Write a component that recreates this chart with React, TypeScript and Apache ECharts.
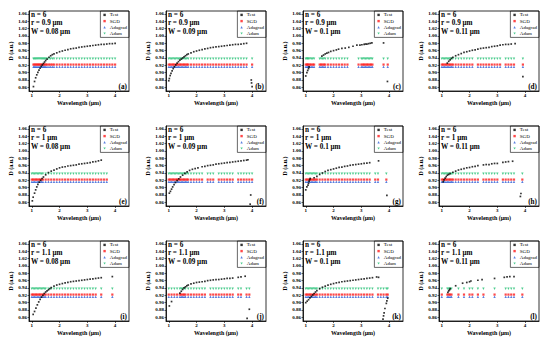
import React, { useEffect, useRef } from "react";
import * as echarts from "echarts";

const panelLabels = ["(a)", "(b)", "(c)", "(d)", "(e)", "(f)", "(g)", "(h)", "(i)", "(j)", "(k)", "(l)"];
const radiusLabels = ["0.9 μm", "1 μm", "1.1 μm"];
const widthLabels = ["0.08 μm", "0.09 μm", "0.1 μm", "0.11 μm"];
const yTicks = [0.86, 0.88, 0.9, 0.92, 0.94, 0.96, 0.98, 1.0, 1.02, 1.04, 1.06];
const xTicks = [1, 2, 3, 4];
const sgdLevel = 0.922;
const adagradLevel = 0.916;
const adamLevel = 0.938;

// (a)
const testXA = [1.06, 1.1, 1.14, 1.18, 1.22, 1.26, 1.3, 1.34, 1.38, 1.42, 1.46, 1.5, 1.55, 1.62, 1.68, 1.74, 1.8, 1.9, 2.0, 2.1, 2.2, 2.3, 2.4, 2.5, 2.6, 2.7, 2.8, 2.9, 3.0, 3.1, 3.2, 3.3, 3.4, 3.5, 3.6, 3.7, 3.8, 3.9, 4.0];
const testYA = [0.862, 0.876, 0.886, 0.894, 0.901, 0.907, 0.912, 0.917, 0.921, 0.925, 0.929, 0.933, 0.937, 0.942, 0.946, 0.949, 0.951, 0.954, 0.957, 0.959, 0.961, 0.963, 0.965, 0.966, 0.967, 0.969, 0.97, 0.971, 0.972, 0.973, 0.974, 0.975, 0.976, 0.977, 0.977, 0.978, 0.979, 0.979, 0.98];
const predXA = [1.06, 1.1, 1.14, 1.18, 1.22, 1.26, 1.3, 1.34, 1.38, 1.42, 1.46, 1.5, 1.55, 1.62, 1.68, 1.74, 1.8, 1.9, 2.0, 2.1, 2.2, 2.3, 2.4, 2.5, 2.6, 2.7, 2.8, 2.9, 3.0, 3.1, 3.2, 3.3, 3.4, 3.5, 3.6, 3.7, 3.8, 3.9, 4.0];
// (b)
const testXB = [1.0, 1.02, 1.05, 1.08, 1.12, 1.16, 1.2, 1.25, 1.3, 1.35, 1.4, 1.45, 1.5, 1.55, 1.6, 1.65, 1.7, 1.8, 1.9, 2.0, 2.1, 2.2, 2.3, 2.4, 2.5, 2.6, 2.7, 2.8, 2.9, 3.0, 3.1, 3.2, 3.3, 3.4, 3.5, 3.6, 3.7, 3.8, 3.97, 3.98, 4.0];
const testYB = [0.878, 0.884, 0.892, 0.898, 0.905, 0.911, 0.916, 0.921, 0.926, 0.93, 0.934, 0.937, 0.94, 0.943, 0.946, 0.949, 0.951, 0.954, 0.957, 0.959, 0.961, 0.963, 0.965, 0.966, 0.968, 0.969, 0.97, 0.971, 0.972, 0.973, 0.974, 0.975, 0.976, 0.977, 0.977, 0.978, 0.979, 0.98, 0.88, 0.872, 0.862];
const predXB = [1.0, 1.05, 1.1, 1.15, 1.2, 1.25, 1.3, 1.35, 1.4, 1.45, 1.5, 1.55, 1.6, 1.65, 1.7, 1.8, 1.9, 2.0, 2.1, 2.2, 2.3, 2.4, 2.5, 2.6, 2.7, 2.8, 2.9, 3.0, 3.1, 3.2, 3.3, 3.4, 3.5, 3.6, 3.7, 3.8, 4.0];
// (c)
const testXC = [1.0, 1.04, 1.07, 1.1, 1.12, 1.58, 1.64, 1.7, 1.76, 1.82, 1.9, 2.0, 2.1, 2.18, 2.3, 2.42, 2.55, 2.7, 2.84, 2.95, 3.02, 3.1, 3.15, 3.2, 3.26, 3.32, 3.38, 3.8, 3.94];
const testYC = [0.891, 0.9, 0.906, 0.911, 0.916, 0.945, 0.948, 0.951, 0.953, 0.955, 0.958, 0.96, 0.962, 0.964, 0.966, 0.967, 0.969, 0.972, 0.975, 0.975, 0.976, 0.977, 0.978, 0.978, 0.979, 0.98, 0.981, 0.981, 0.876];
const predXC = [1.0, 1.04, 1.07, 1.1, 1.15, 1.2, 1.25, 1.3, 1.5, 1.55, 1.6, 1.65, 1.7, 1.8, 1.9, 2.0, 2.1, 2.2, 2.3, 2.4, 2.5, 2.9, 3.0, 3.05, 3.1, 3.15, 3.2, 3.25, 3.3, 3.35, 3.4, 3.8, 3.95];
// (d)
const testXD = [1.2, 1.25, 1.3, 1.35, 1.4, 1.5, 1.6, 1.7, 1.8, 1.9, 2.0, 2.1, 2.2, 2.3, 2.4, 2.5, 2.6, 2.7, 2.8, 2.9, 3.0, 3.1, 3.2, 3.3, 3.4, 3.5, 3.64, 3.92];
const testYD = [0.926, 0.931, 0.935, 0.939, 0.942, 0.946, 0.949, 0.952, 0.955, 0.957, 0.959, 0.961, 0.962, 0.964, 0.966, 0.967, 0.968, 0.969, 0.971, 0.972, 0.973, 0.975, 0.976, 0.977, 0.977, 0.978, 0.979, 0.889];
const predXD = [1.0, 1.05, 1.1, 1.15, 1.2, 1.25, 1.3, 1.35, 1.4, 1.5, 1.6, 1.7, 1.8, 1.9, 2.0, 2.1, 2.3, 2.4, 2.5, 2.6, 2.7, 2.8, 2.9, 3.0, 3.1, 3.3, 3.4, 3.5, 3.6, 3.92];
// (e)
const testXE = [1.02, 1.05, 1.1, 1.14, 1.18, 1.22, 1.27, 1.32, 1.37, 1.42, 1.5, 1.6, 1.7, 1.8, 1.9, 2.0, 2.1, 2.2, 2.3, 2.4, 2.5, 2.6, 2.7, 2.8, 2.9, 3.0, 3.1, 3.2, 3.3, 3.4, 3.5];
const testYE = [0.864, 0.874, 0.885, 0.894, 0.902, 0.909, 0.915, 0.92, 0.925, 0.929, 0.935, 0.941, 0.945, 0.948, 0.951, 0.954, 0.956, 0.957, 0.959, 0.96, 0.961, 0.962, 0.964, 0.965, 0.966, 0.967, 0.968, 0.97, 0.971, 0.973, 0.975];
const predXE = [1.0, 1.05, 1.1, 1.15, 1.2, 1.25, 1.3, 1.35, 1.4, 1.5, 1.6, 1.7, 1.8, 1.9, 2.0, 2.1, 2.2, 2.3, 2.4, 2.5, 2.6, 2.7, 2.8, 2.9, 3.0, 3.1, 3.2, 3.3, 3.4, 3.5, 3.6, 3.7];
// (f)
const testXF = [1.02, 1.06, 1.1, 1.14, 1.19, 1.24, 1.3, 1.36, 1.42, 1.5, 1.58, 1.66, 1.75, 1.85, 1.95, 2.05, 2.2, 2.3, 2.4, 2.5, 2.6, 2.7, 2.8, 2.9, 3.0, 3.1, 3.2, 3.3, 3.4, 3.5, 3.6, 3.7, 3.8, 3.85, 3.95, 3.93];
const testYF = [0.885, 0.89, 0.896, 0.902, 0.908, 0.914, 0.919, 0.924, 0.929, 0.934, 0.939, 0.943, 0.947, 0.95, 0.952, 0.954, 0.957, 0.958, 0.96, 0.961, 0.962, 0.964, 0.965, 0.966, 0.967, 0.968, 0.969, 0.97, 0.971, 0.972, 0.973, 0.974, 0.975, 0.976, 0.88, 0.855];
const predXF = [1.0, 1.05, 1.1, 1.15, 1.2, 1.25, 1.3, 1.35, 1.4, 1.45, 1.5, 1.55, 1.6, 1.65, 1.7, 1.8, 1.9, 2.0, 2.1, 2.2, 2.4, 2.5, 2.6, 2.8, 2.9, 3.0, 3.1, 3.2, 3.3, 3.5, 3.6, 3.7, 3.8, 3.9, 4.0];
// (g)
const testXG = [1.0, 1.04, 1.08, 1.1, 1.12, 1.14, 1.16, 1.3, 1.4, 1.5, 1.6, 1.7, 1.8, 1.9, 2.0, 2.1, 2.2, 2.3, 2.4, 2.5, 2.6, 2.7, 2.8, 2.9, 3.0, 3.1, 3.2, 3.3, 3.62, 3.92];
const testYG = [0.894, 0.902, 0.907, 0.912, 0.918, 0.922, 0.925, 0.927, 0.931, 0.936, 0.94, 0.944, 0.947, 0.949, 0.951, 0.953, 0.955, 0.956, 0.958, 0.959, 0.961, 0.962, 0.963, 0.964, 0.965, 0.966, 0.967, 0.968, 0.973, 0.879];
const predXG = [1.0, 1.05, 1.1, 1.15, 1.2, 1.25, 1.3, 1.35, 1.4, 1.5, 1.6, 1.7, 1.8, 1.9, 2.0, 2.1, 2.2, 2.3, 2.4, 2.5, 2.6, 2.7, 2.8, 2.9, 3.0, 3.1, 3.2, 3.3, 3.5, 3.6, 3.9];
// (h)
const testXH = [1.05, 1.08, 1.12, 1.16, 1.2, 1.25, 1.3, 1.4, 1.5, 1.6, 1.7, 1.8, 1.9, 2.0, 2.1, 2.2, 2.3, 2.5, 2.6, 2.7, 2.8, 2.9, 3.0, 3.2, 3.3, 3.4, 3.55, 3.85, 3.83];
const testYH = [0.916, 0.921, 0.926, 0.93, 0.934, 0.936, 0.938, 0.942, 0.945, 0.948, 0.95, 0.952, 0.954, 0.955, 0.957, 0.958, 0.96, 0.962, 0.963, 0.963, 0.965, 0.966, 0.966, 0.969, 0.97, 0.971, 0.972, 0.884, 0.876];
const predXH = [1.0, 1.05, 1.1, 1.15, 1.2, 1.25, 1.3, 1.35, 1.4, 1.5, 1.6, 1.7, 1.8, 1.9, 2.0, 2.1, 2.2, 2.3, 2.5, 2.6, 2.7, 2.8, 2.9, 3.0, 3.2, 3.3, 3.4, 3.5, 3.6, 3.9];
// (i)
const testXI = [1.05, 1.1, 1.15, 1.2, 1.25, 1.3, 1.35, 1.4, 1.45, 1.5, 1.55, 1.6, 1.65, 1.7, 1.8, 1.9, 2.0, 2.1, 2.2, 2.3, 2.4, 2.5, 2.6, 2.7, 2.8, 2.9, 3.0, 3.1, 3.2, 3.3, 3.4, 3.5, 3.9];
const testYI = [0.868, 0.876, 0.885, 0.894, 0.902, 0.909, 0.915, 0.92, 0.925, 0.929, 0.932, 0.935, 0.938, 0.941, 0.945, 0.948, 0.95, 0.952, 0.954, 0.955, 0.957, 0.958, 0.959, 0.96, 0.961, 0.962, 0.963, 0.964, 0.965, 0.966, 0.967, 0.968, 0.971];
const predXI = [1.0, 1.05, 1.1, 1.15, 1.2, 1.25, 1.3, 1.35, 1.4, 1.45, 1.5, 1.6, 1.7, 1.8, 1.9, 2.0, 2.1, 2.2, 2.3, 2.4, 2.5, 2.6, 2.7, 2.8, 2.9, 3.0, 3.1, 3.2, 3.3, 3.5, 3.9];
// (j)
const testXJ = [1.02, 1.1, 1.4, 1.45, 1.5, 1.55, 1.6, 1.65, 1.7, 1.8, 1.9, 2.0, 2.1, 2.2, 2.3, 2.4, 2.5, 2.6, 2.7, 2.8, 2.9, 3.0, 3.1, 3.2, 3.3, 3.5, 3.6, 3.75, 3.9, 3.82];
const testYJ = [0.891, 0.903, 0.926, 0.931, 0.936, 0.94, 0.943, 0.946, 0.948, 0.951, 0.953, 0.955, 0.956, 0.957, 0.958, 0.96, 0.961, 0.962, 0.963, 0.963, 0.964, 0.965, 0.966, 0.966, 0.967, 0.969, 0.97, 0.972, 0.882, 0.857];
const predXJ = [1.0, 1.1, 1.2, 1.3, 1.4, 1.45, 1.5, 1.55, 1.6, 1.7, 1.8, 1.9, 2.0, 2.1, 2.2, 2.3, 2.5, 2.6, 2.7, 2.8, 2.9, 3.0, 3.1, 3.2, 3.3, 3.5, 3.6, 3.8, 3.9];
// (k)
const testXK = [1.0, 1.05, 1.1, 1.15, 1.2, 1.25, 1.3, 1.35, 1.4, 1.5, 1.6, 1.7, 1.8, 1.9, 2.0, 2.1, 2.2, 2.3, 2.4, 2.5, 2.6, 2.7, 2.8, 2.9, 3.0, 3.1, 3.2, 3.3, 3.4, 3.55, 3.62, 3.78, 3.8, 3.82, 3.85, 3.9, 3.92, 3.95];
const testYK = [0.9, 0.904, 0.908, 0.913, 0.917, 0.921, 0.925, 0.929, 0.933, 0.938, 0.942, 0.945, 0.948, 0.95, 0.952, 0.954, 0.955, 0.957, 0.958, 0.959, 0.96, 0.961, 0.962, 0.963, 0.964, 0.965, 0.966, 0.967, 0.968, 0.97, 0.969, 0.855, 0.864, 0.872, 0.884, 0.898, 0.905, 0.912];
const predXK = [1.0, 1.05, 1.1, 1.15, 1.2, 1.25, 1.3, 1.35, 1.4, 1.5, 1.6, 1.7, 1.8, 1.9, 2.0, 2.1, 2.2, 2.3, 2.4, 2.5, 2.6, 2.7, 2.8, 2.9, 3.0, 3.1, 3.2, 3.3, 3.4, 3.6, 3.7, 3.8, 3.9, 3.95];
// (l)
const testXL = [1.22, 1.25, 1.28, 1.3, 1.5, 1.75, 1.9, 2.0, 2.05, 2.3, 2.45, 2.9, 3.25, 3.35, 3.45, 3.6];
const testYL = [0.928, 0.932, 0.935, 0.938, 0.946, 0.953, 0.955, 0.957, 0.959, 0.961, 0.963, 0.966, 0.969, 0.97, 0.971, 0.971];
const predXL = [1.0, 1.2, 1.25, 1.3, 1.35, 1.6, 1.8, 2.0, 2.1, 2.3, 2.5, 2.9, 3.3, 3.4, 3.5, 3.6, 3.9];

const panels = [
  { testX: testXA, testY: testYA, predX: predXA },
  { testX: testXB, testY: testYB, predX: predXB },
  { testX: testXC, testY: testYC, predX: predXC },
  { testX: testXD, testY: testYD, predX: predXD },
  { testX: testXE, testY: testYE, predX: predXE },
  { testX: testXF, testY: testYF, predX: predXF },
  { testX: testXG, testY: testYG, predX: predXG },
  { testX: testXH, testY: testYH, predX: predXH },
  { testX: testXI, testY: testYI, predX: predXI },
  { testX: testXJ, testY: testYJ, predX: predXJ },
  { testX: testXK, testY: testYK, predX: predXK },
  { testX: testXL, testY: testYL, predX: predXL },
];

const FONT = '"Liberation Serif", "Times New Roman", serif';
const DOWN_TRI = "path://M0,0 L10,0 L5,9 Z";
const COLORS = { test: "#000000", sgd: "#ff1a1a", adagrad: "#2f5fd6", adam: "#1fbf72" };

function buildOption() {
  const W = 550;
  const colLeft = [29, 166, 303, 439];
  const rowTop = [11, 126, 241];
  const gw = 100;
  const gh = 80;
  const grid: any[] = [];
  const xAxis: any[] = [];
  const yAxis: any[] = [];
  const series: any[] = [];
  const legend: any[] = [];
  const graphic: any[] = [];

  panels.forEach((p, i) => {
    const r = Math.floor(i / 4);
    const c = i % 4;
    const left = colLeft[c];
    const top = rowTop[r];
    grid.push({ left, top, width: gw, height: gh, show: true, borderColor: "#000", borderWidth: 0.8, backgroundColor: "transparent" });
    xAxis.push({
      type: "value", gridIndex: i, min: 0.9, max: 4.5,
      name: "Wavelength (μm)", nameLocation: "middle", nameGap: 8.5,
      nameTextStyle: { fontFamily: FONT, fontWeight: "bold", fontSize: 6, color: "#000" },
      axisLine: { show: true, lineStyle: { color: "#000", width: 0.8 } },
      axisTick: { show: true, length: 2, customValues: xTicks, lineStyle: { color: "#000", width: 0.6 } },
      axisLabel: { customValues: xTicks, margin: 2, fontFamily: FONT, fontWeight: "bold", fontSize: 5, color: "#000", formatter: (v: number) => String(v) },
      splitLine: { show: false },
    });
    yAxis.push({
      type: "value", gridIndex: i, min: 0.85, max: 1.068,
      name: "D (a.u.)", nameLocation: "middle", nameGap: 12.5,
      nameTextStyle: { fontFamily: FONT, fontWeight: "bold", fontSize: 6, color: "#000" },
      axisLine: { show: true, lineStyle: { color: "#000", width: 0.8 } },
      axisTick: { show: true, length: 1.5, customValues: yTicks, lineStyle: { color: "#000", width: 0.6 } },
      axisLabel: { customValues: yTicks, margin: 2, fontFamily: FONT, fontWeight: "bold", fontSize: 5, color: "#000", formatter: (v: number) => v.toFixed(2) },
      splitLine: { show: false },
    });
    series.push({
      name: "SGD", type: "scatter", xAxisIndex: i, yAxisIndex: i, symbol: "rect", symbolSize: 2.2,
      itemStyle: { color: COLORS.sgd }, data: p.predX.map((x) => [x, sgdLevel]),
    });
    series.push({
      name: "Adagrad", type: "scatter", xAxisIndex: i, yAxisIndex: i, symbol: "triangle", symbolSize: 2.4,
      itemStyle: { color: COLORS.adagrad }, data: p.predX.map((x) => [x, adagradLevel]),
    });
    series.push({
      name: "Adam", type: "scatter", xAxisIndex: i, yAxisIndex: i, symbol: DOWN_TRI, symbolSize: 2.4,
      itemStyle: { color: COLORS.adam }, data: p.predX.map((x) => [x, adamLevel]),
    });
    series.push({
      name: "Test", type: "scatter", xAxisIndex: i, yAxisIndex: i, symbol: "rect", symbolSize: 1.7,
      itemStyle: { color: COLORS.test }, data: p.testX.map((x, k) => [x, p.testY[k]]),
    });
    legend.push({
      orient: "vertical", right: W - (left + gw), top: top,
      padding: [1, 2, 1, 3], itemGap: 0.4, itemWidth: 2.4, itemHeight: 2.4,
      borderColor: "#000", borderWidth: 0.6, selectedMode: false, align: "left",
      textStyle: { fontFamily: FONT, fontSize: 5, color: "#000", lineHeight: 5.8, padding: [0, 0, 0, -1] },
      data: [
        { name: "Test", icon: "rect" },
        { name: "SGD", icon: "rect" },
        { name: "Adagrad", icon: "triangle" },
        { name: "Adam", icon: DOWN_TRI },
      ],
    });
    const lines = ["n = 6", "r = " + radiusLabels[r], "W = " + widthLabels[c]];
    lines.forEach((t, k) => {
      graphic.push({
        type: "text", x: left + 2, y: top + 3.5 + k * 8.6, z: 10,
        style: { text: t, fontFamily: FONT, fontWeight: "bold", fontSize: 7.2, fill: "#000", verticalAlign: "middle", textVerticalAlign: "middle", align: "left", textAlign: "left" },
      });
    });
    graphic.push({
      type: "text", x: left + gw - 2, y: top + gh - 4, z: 10,
      style: { text: panelLabels[i], fontFamily: FONT, fontWeight: "bold", fontSize: 7.2, fill: "#000", verticalAlign: "middle", textVerticalAlign: "middle", align: "right", textAlign: "right" },
    });
  });

  return { animation: false, backgroundColor: "#fff", grid, xAxis, yAxis, series, legend, graphic };
}

export default function App() {
  const ref = useRef<HTMLDivElement>(null);
  useEffect(() => {
    if (!ref.current) return;
    const chart = echarts.init(ref.current, undefined, { renderer: "svg" });
    chart.setOption(buildOption() as any);
    return () => chart.dispose();
  }, []);
  return <div ref={ref} style={{ position: "fixed", left: 0, top: 0, width: 550, height: 345, background: "#fff" }} />;
}
